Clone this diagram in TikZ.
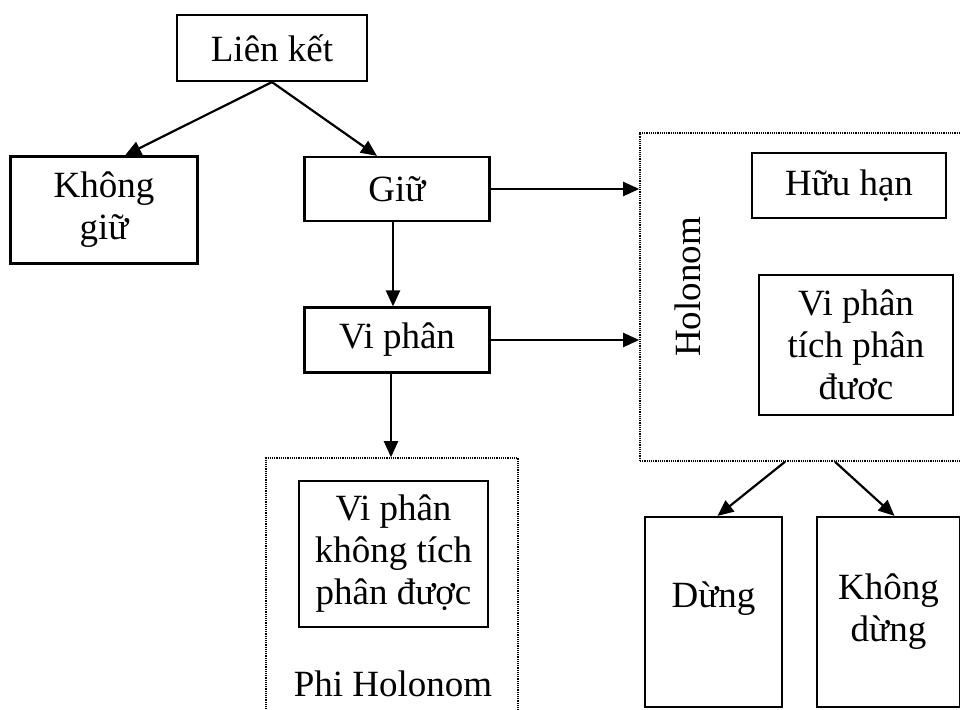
\documentclass[tikz,border=0pt]{standalone}
\usepackage{fontspec}
\setmainfont{Liberation Serif}
\usetikzlibrary{arrows.meta,positioning}

\begin{document}
\begin{tikzpicture}[
  x=0.5pt,y=-0.5pt,
  >={Triangle[length=8pt,width=7pt]},
  every node/.style={font=\fontsize{18.5}{21}\selectfont},
  box/.style={draw,line width=1.1pt,align=center,inner sep=0pt},
  group/.style={draw,line width=0.8pt,dash pattern=on 0.6pt off 0.5pt,inner sep=0pt},
  arr/.style={->,line width=1.1pt},
]
  \useasboundingbox (0,0) rectangle (960,710);

  \node[box,minimum width=95pt,minimum height=33pt]   (lienket)   at (272,48)    {Liên kết};
  \node[box,minimum width=93.5pt,minimum height=53.5pt] (khonggiu) at (104,210)  {Không\\giữ};
  \node[box,minimum width=92.5pt,minimum height=32pt] (giu)       at (397,189)   {Giữ};
  \node[box,minimum width=92.5pt,minimum height=32.5pt] (viphan)  at (397,340)   {Vi phân};

  % Phi Holonom group
  \node[group,minimum width=126pt,minimum height=130pt] (phibox) at (392,588) {};
  \node[box,minimum width=94.5pt,minimum height=73pt] (vpktpd)    at (393.5,554) {Vi phân\\không tích\\phân được};
  \node (phiname) at (393,684) {Phi Holonom};

  % Holonom group
  \node[group,minimum width=163pt,minimum height=164pt] (holo) at (803,297) {};
  \node[rotate=90] (holoname) at (688,287) {Holonom};
  \node[box,minimum width=97pt,minimum height=32.5pt] (huuhan)    at (849,185.5) {Hữu hạn};
  \node[box,minimum width=97pt,minimum height=70pt]   (vptpd)     at (856,345)   {Vi phân\\tích phân\\đươc};

  \node[box,minimum width=68.5pt,minimum height=95pt] (dung)      at (713.5,612) {\\[-4pt]Dừng\\~};
  \node[box,minimum width=71.5pt,minimum height=95pt] (khongdung) at (888.5,612) {Không\\dừng};

  \draw[arr] (lienket.south) -- ([xshift=10.5pt]khonggiu.north);
  \draw[arr] (lienket.south) -- ([xshift=-10pt]giu.north);
  \draw[arr] ([xshift=-2pt]giu.south) -- ([xshift=-2pt]viphan.north);
  \draw[arr] ([xshift=-3pt]viphan.south) -- ([xshift=-3pt]viphan.south |- phibox.north);
  \draw[arr] (giu.east) -- (giu.east -| holo.west);
  \draw[arr] (viphan.east) -- (viphan.east -| holo.west);
  \draw[arr] ([xshift=-9pt]holo.south) -- ([xshift=2pt]dung.north);
  \draw[arr] ([xshift=16pt]holo.south) -- ([xshift=3pt]khongdung.north);
\end{tikzpicture}
\end{document}
